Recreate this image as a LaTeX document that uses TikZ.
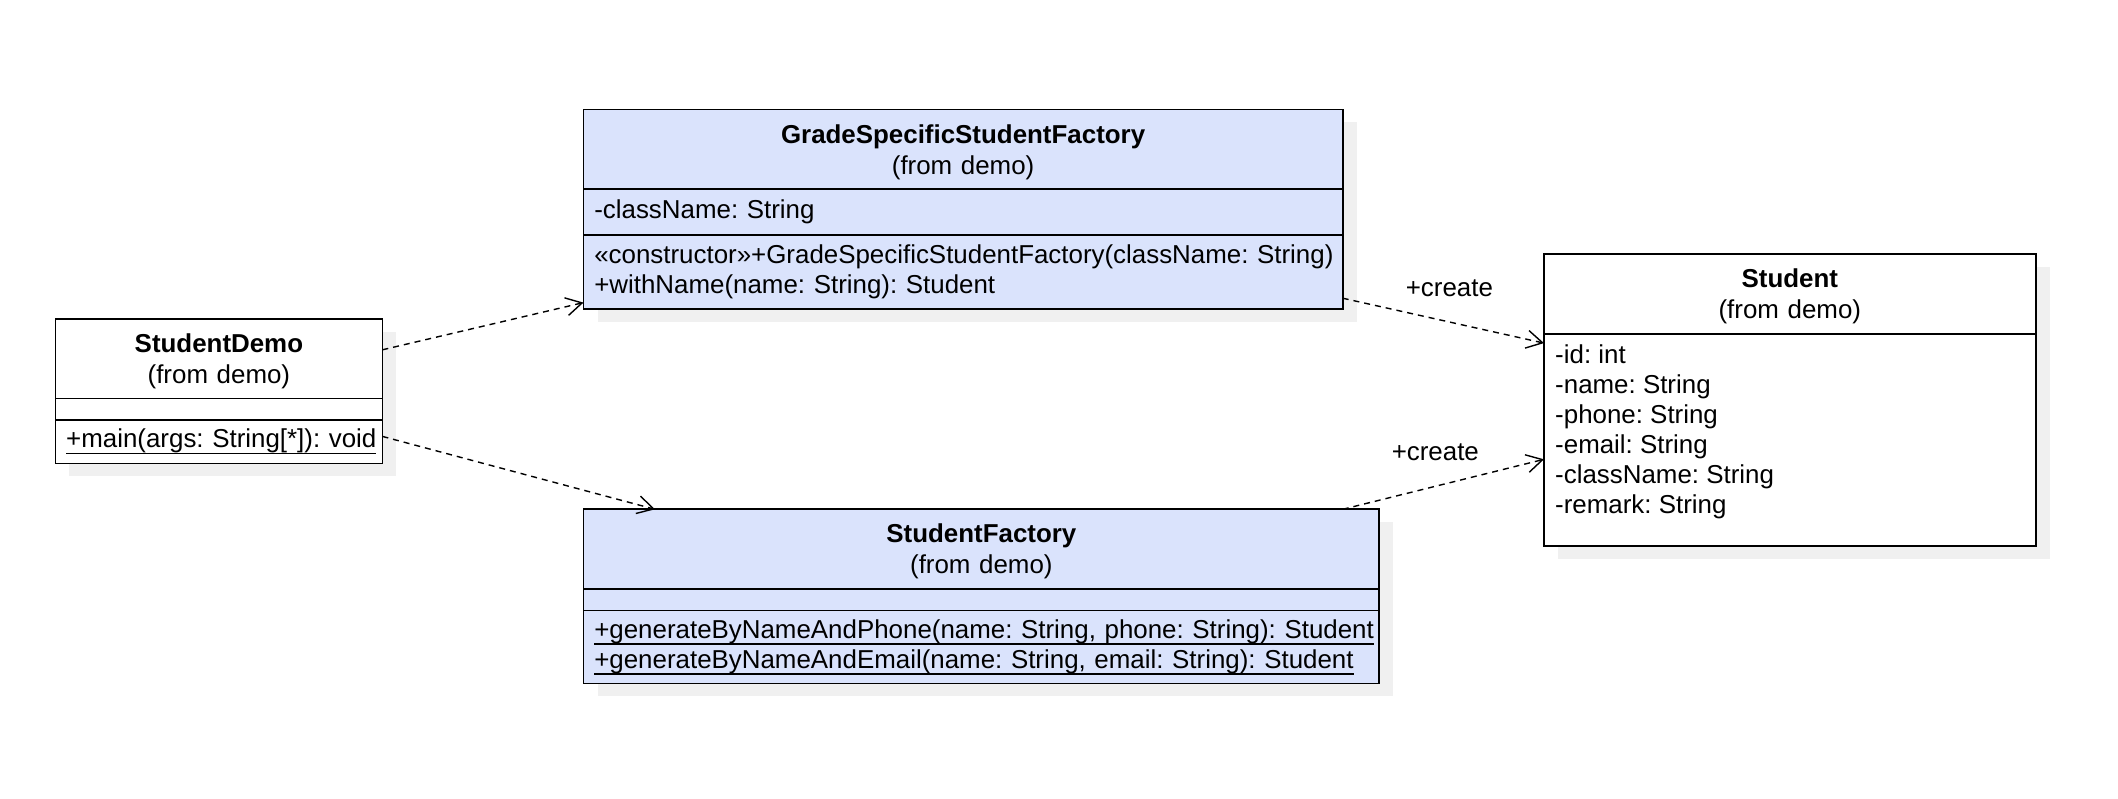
\documentclass[tikz,border=0pt]{standalone}
\usepackage{fontspec}
\setmainfont{Liberation Sans}
\usetikzlibrary{positioning,arrows.meta,backgrounds}
\frenchspacing

\definecolor{classblue}{RGB}{218,227,252}
\definecolor{shadowgray}{RGB}{240,240,240}

\newcommand{\staticop}[1]{\vtop{\hbox{#1}\kern-0.3pt\hrule height 0.8pt}}

\begin{document}
\begin{tikzpicture}[x=0.5pt, y=-0.5pt,
      font=\fontsize{12.95pt}{15pt}\selectfont,
      classhead/.style={draw, line width=0.9pt, outer sep=0pt, text width=#1, inner xsep=5.4pt, inner ysep=0pt, minimum height=39.8pt, align=center, font=\fontsize{12.95pt}{15.5pt}\selectfont, text height=12pt},
      classpart/.style={draw, line width=0.9pt, outer sep=0pt, text width=#1, inner xsep=5.4pt, inner ysep=0pt, align=left},
      bluefill/.style={fill=classblue},
      whitefill/.style={fill=white},
      shadowbox/.style={fill=shadowgray},
      dependency/.style={line width=0.7pt, dash pattern=on 3pt off 2.5pt, -{Straight Barb[length=8pt, width=9pt]}},
      createlabel/.style={yshift=17pt}]

   \useasboundingbox (0,0) rectangle (2118,798);

   \node[classhead=152.7pt, whitefill, anchor=north west] (demohead) at (55.4,318.8) {\textbf{StudentDemo}\\(from demo)};
   \node[classpart=152.7pt, whitefill, minimum height=10.85pt, below=0pt of demohead] (demoattr) {};
   \node[classpart=152.7pt, whitefill, minimum height=21.65pt, below=0pt of demoattr] (demoops) {\staticop{+main(args: String[*]): void}};

   \node[classhead=368.8pt, bluefill, anchor=north west] (gradehead) at (583.5,109.4) {\textbf{GradeSpecificStudentFactory}\\(from demo)};
   \node[classpart=368.8pt, bluefill, minimum height=22.95pt, below=0pt of gradehead] (gradeattr) {-className: String};
   \node[classpart=368.8pt, bluefill, minimum height=37.15pt, below=0pt of gradeattr] (gradeops) {\mbox{«constructor»+GradeSpecificStudentFactory(className: String)}\\+withName(name: String): Student};

   \node[classhead=387.05pt, bluefill, anchor=north west] (factoryhead) at (583.5,509.3) {\textbf{StudentFactory}\\(from demo)};
   \node[classpart=387.05pt, bluefill, minimum height=10.8pt, below=0pt of factoryhead] (factoryattr) {};
   \node[classpart=387.05pt, bluefill, minimum height=36.45pt, below=0pt of factoryattr] (factoryops) {\staticop{+generateByNameAndPhone(name: String, phone: String): Student}\\\staticop{+generateByNameAndEmail(name: String, email: String): Student}};

   \node[classhead=235pt, whitefill, anchor=north west] (studenthead) at (1544,254) {\textbf{Student}\\(from demo)};
   \node[classpart=235pt, whitefill, minimum height=106pt, below=0pt of studenthead] (studentattr) {};
   \node[anchor=north west, inner sep=0pt, align=left] (studentfields) at ([xshift=5.4pt, yshift=-5.5pt]studentattr.north west) {-id: int\\-name: String\\-phone: String\\-email: String\\-className: String\\-remark: String};

   \begin{scope}[on background layer]
      \fill[shadowbox] ([xshift=7pt, yshift=-6.5pt]demohead.north west) rectangle ([xshift=7pt, yshift=-6.5pt]demoops.south east);
      \fill[shadowbox] ([xshift=7pt, yshift=-6.5pt]gradehead.north west) rectangle ([xshift=7pt, yshift=-6.5pt]gradeops.south east);
      \fill[shadowbox] ([xshift=7pt, yshift=-6.5pt]factoryhead.north west) rectangle ([xshift=7pt, yshift=-6.5pt]factoryops.south east);
      \fill[shadowbox] ([xshift=7pt, yshift=-6.5pt]studenthead.north west) rectangle ([xshift=7pt, yshift=-6.5pt]studentattr.south east);
   \end{scope}

   \draw[dependency] ([yshift=-15.5pt]demohead.north east) to ([yshift=3.3pt]gradeops.south west);
   \draw[dependency] ([yshift=-8.15pt]demoops.north east) to ([xshift=35.75pt]factoryhead.north west);

   \draw[dependency] ([yshift=5.5pt]gradeops.south east) to node[createlabel, pos=0.53] (createone) {+create} ([yshift=-4.75pt]studentattr.north west);
   \draw[dependency] (gradeops.south east |- factoryhead.north) to node[createlabel, pos=0.46] (createtwo) {+create} ([yshift=-62.85pt]studentattr.north west);
\end{tikzpicture}
\end{document}
